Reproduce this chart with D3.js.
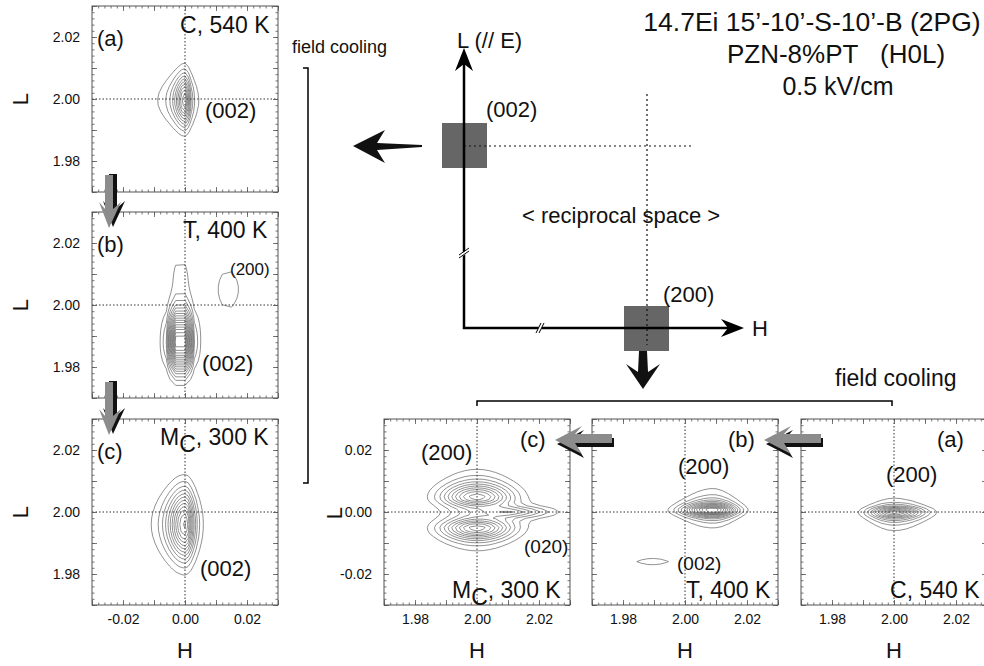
<!DOCTYPE html>
<meta charset="utf-8">
<script src="https://d3js.org/d3.v7.min.js"></script>
<style>
  body { margin: 0; background: #fff; }
  text { font-family: "Liberation Sans", Arial, sans-serif; fill: #111; }
</style>
<div id="my_dataviz"></div>
<script>

// ---------------- data ----------------
var hDomainLeft = [-0.03, 0.03], lDomainLeft = [1.97, 2.03];
var hDomainBottom = [1.97, 2.03], lDomainBottom = [-0.03, 0.03];
var hTicksLeft = [-0.02, 0.00, 0.02];
var lTicksLeft = [1.98, 2.00, 2.02];
var hTicksBottom = [1.98, 2.00, 2.02];
var lTicksBottom = [-0.02, 0.00, 0.02];

var panelTags = ["(a)", "(b)", "(c)"];
var phaseNames = ["C", "T", "MC"];
var temperatures = ["540 K", "400 K", "300 K"];

// contour levels (relative intensity)
var contourLevels = [0.10, 0.18, 0.26, 0.34, 0.42, 0.50, 0.58, 0.66, 0.74, 0.82, 0.90, 0.98, 1.06, 1.14, 1.22, 1.30];

// peaks: [H, L, amplitude, width H-, width H+, width L-, width L+, shape of the narrow profile]
// (002) maps: narrow along H
var peaks002C540 = [[0.000, 1.9995, 0.90, 0.0022, 0.0011, 0.0055, 0.0057, 1]];
var peaks002T400 = [[-0.0015, 1.988, 1.70, 0.0022, 0.0022, 0.0061, 0.0070, 8],
                    [-0.0015, 2.010, 0.13, 0.0025, 0.0025, 0.0060, 0.0060, 8],
                    [0.014, 2.005, 0.13, 0.0047, 0.0047, 0.0083, 0.0083, 8]];
var peaks002M300 = [[0.000, 1.996, 1.00, 0.0037, 0.0020, 0.0076, 0.0075, 2]];
// (200) maps: narrow along L
var peaks200C540 = [[2.000, 0.000, 0.90, 0.0055, 0.0066, 0.0015, 0.0011, 1]];
var peaks200T400 = [[2.009, 0.0005, 1.20, 0.0065, 0.0051, 0.0012, 0.0015, 1],
                    [1.9895, -0.016, 0.13, 0.0070, 0.0070, 0.0013, 0.0013, 1]];
var peaks200M300 = [[2.000, 0.0048, 0.85, 0.0077, 0.0077, 0.0022, 0.0032, 2],
                    [2.000, -0.0052, 0.85, 0.0077, 0.0077, 0.0026, 0.0022, 2],
                    [2.012, 0.000, 0.40, 0.0060, 0.0087, 0.0012, 0.0012, 2]];

// ---------------- layout ----------------
var W = 984, H = 666, S = 186;
var svg = d3.select("#my_dataviz").append("svg")
  .attr("width", W).attr("height", H);

// Pearson-VII profile across the narrow direction, Gaussian along the long one
function intensity(peaks, h, l, narrowIsH) {
  var s = 0;
  peaks.forEach(function(p) {
    var dh = h - p[0], dl = l - p[1];
    var uh = dh / (dh < 0 ? p[3] : p[4]);
    var ul = dl / (dl < 0 ? p[5] : p[6]);
    var un = narrowIsH ? uh : ul, ug = narrowIsH ? ul : uh, nu = p[7];
    s += p[2] * Math.pow(1 + un * un / (2 * nu), -nu) * Math.exp(-0.5 * ug * ug);
  });
  return s;
}

function label(g, x, y, txt, size, anchor) {
  return g.append("text").attr("x", x).attr("y", y)
    .attr("font-size", size).attr("text-anchor", anchor || "start").text(txt);
}

function phaseLabel(g, x, y, i, size) {
  var t = g.append("text").attr("x", x).attr("y", y).attr("font-size", size);
  var name = phaseNames[i];
  t.append("tspan").text(name[0]);
  if (name.length > 1) {
    t.append("tspan").attr("dy", 7).text(name.slice(1));
    t.append("tspan").attr("dy", -7).text(", " + temperatures[i]);
  } else {
    t.append("tspan").text(", " + temperatures[i]);
  }
}

function drawMap(x0, y0, hDomain, lDomain, peaks, narrowIsH, stepH, stepL) {
  var g = svg.append("g").attr("transform", "translate(" + x0 + "," + y0 + ")");
  var x = d3.scaleLinear().domain(hDomain).range([0, S]);
  var y = d3.scaleLinear().domain(lDomain).range([S, 0]);

  // intensity grid + contours
  var nH = Math.round((hDomain[1] - hDomain[0]) / stepH) + 1;
  var nL = Math.round((lDomain[1] - lDomain[0]) / stepL) + 1;
  var values = new Array(nH * nL);
  for (var j = 0; j < nL; j++)
    for (var i = 0; i < nH; i++)
      values[j * nH + i] = intensity(peaks, hDomain[0] + i * stepH, lDomain[0] + j * stepL, narrowIsH);
  var contours = d3.contours().size([nH, nL]).thresholds(contourLevels)(values);
  var proj = d3.geoTransform({
    point: function(px, py) {
      this.stream.point(x(hDomain[0] + (px - 0.5) * stepH), y(lDomain[0] + (py - 0.5) * stepL));
    }
  });
  var path = d3.geoPath(proj);
  g.selectAll("path.ct").data(contours).enter().append("path")
    .attr("class", "ct")
    .attr("d", path)
    .attr("fill", "none")
    .attr("stroke", "#555")
    .attr("stroke-width", 0.65);

  // dotted centre lines
  var hc = d3.mean(hDomain), lc = d3.mean(lDomain);
  g.append("line").attr("x1", x(hc)).attr("x2", x(hc)).attr("y1", 0).attr("y2", S)
    .attr("stroke", "#333").attr("stroke-width", 1).attr("stroke-dasharray", "1.5,2");
  g.append("line").attr("x1", 0).attr("x2", S).attr("y1", y(lc)).attr("y2", y(lc))
    .attr("stroke", "#333").attr("stroke-width", 1).attr("stroke-dasharray", "1.5,2");

  // frame
  g.append("rect").attr("width", S).attr("height", S)
    .attr("fill", "none").attr("stroke", "#555").attr("stroke-width", 1);

  // inward ticks on all sides
  function ticks(axisFn, scale, n, size, tx, ty) {
    var a = g.append("g").attr("transform", "translate(" + tx + "," + ty + ")")
      .call(axisFn(scale).tickValues(scale.ticks(n)).tickSize(-size).tickFormat(""));
    a.select(".domain").remove();
    a.selectAll("line").attr("stroke", "#555").attr("stroke-width", 0.8);
  }
  [[6, 5], [30, 2.5]].forEach(function(t) {
    ticks(d3.axisLeft, y, t[0], t[1], 0, 0);
    ticks(d3.axisRight, y, t[0], t[1], S, 0);
    ticks(d3.axisTop, x, t[0], t[1], 0, 0);
    ticks(d3.axisBottom, x, t[0], t[1], 0, S);
  });
  return { g: g, x: x, y: y };
}

function tickLabels(p, hTicks, lTicks, showH, showL) {
  var fmt = function(v) { return v.toFixed(2); };
  if (showL) {
    var ya = p.g.append("g")
      .call(d3.axisLeft(p.y).tickValues(lTicks).tickSize(0).tickPadding(12).tickFormat(fmt));
    ya.select(".domain").remove();
    ya.selectAll("text").attr("font-size", 14).attr("font-family", "Liberation Sans, Arial, sans-serif").attr("fill", "#222");
  }
  if (showH) {
    var xa = p.g.append("g").attr("transform", "translate(0," + S + ")")
      .call(d3.axisBottom(p.x).tickValues(hTicks).tickSize(0).tickPadding(9).tickFormat(fmt));
    xa.select(".domain").remove();
    xa.selectAll("text").attr("font-size", 14).attr("font-family", "Liberation Sans, Arial, sans-serif").attr("fill", "#222");
  }
}

// ---------------- left column: (002) maps ----------------
var leftY = [6, 212, 419];
var leftPeaks = [peaks002C540, peaks002T400, peaks002M300];
var leftGrid = [[0.001, 0.002], [0.003, 0.002], [0.001, 0.002]];   // sampling step in H, L
var leftPanels = leftPeaks.map(function(pk, i) {
  var p = drawMap(92, leftY[i], hDomainLeft, lDomainLeft, pk, true, leftGrid[i][0], leftGrid[i][1]);
  tickLabels(p, hTicksLeft, lTicksLeft, i === 2, true);
  label(p.g, 5, 40, panelTags[i], 22);
  label(svg, 0, 0, "L", 22, "middle")
    .attr("transform", "translate(28," + (leftY[i] + S / 2) + ") rotate(-90)");
  return p;
});
phaseLabel(leftPanels[0].g, 88, 27, 0, 23);
label(leftPanels[0].g, 113, 112, "(002)", 22);
phaseLabel(leftPanels[1].g, 91, 26, 1, 23);
label(leftPanels[1].g, 138, 63, "(200)", 17);
label(leftPanels[1].g, 110, 159, "(002)", 22);
phaseLabel(leftPanels[2].g, 68, 26, 2, 23);
label(leftPanels[2].g, 108, 157, "(002)", 22);
label(svg, 92 + S / 2, 658, "H", 22, "middle");

// ---------------- bottom row: (200) maps ----------------
var bottomX = [801, 592, 384];
var bottomPeaks = [peaks200C540, peaks200T400, peaks200M300];
var bottomPanels = bottomPeaks.map(function(pk, i) {
  var p = drawMap(bottomX[i], 419, hDomainBottom, lDomainBottom, pk, false, 0.002, 0.001);
  tickLabels(p, hTicksBottom, lTicksBottom, true, i === 2);
  label(p.g, 136, 28, panelTags[i], 22);
  label(svg, bottomX[i] + S / 2, 658, "H", 22, "middle");
  return p;
});
label(svg, 0, 0, "L", 22, "middle").attr("transform", "translate(342,513) rotate(-90)");
label(bottomPanels[0].g, 85, 63, "(200)", 22);
phaseLabel(bottomPanels[0].g, 89, 179, 0, 23);
label(bottomPanels[1].g, 86, 55, "(200)", 22);
label(bottomPanels[1].g, 85, 151, "(002)", 19);
phaseLabel(bottomPanels[1].g, 94, 179, 1, 23);
label(bottomPanels[2].g, 37, 41, "(200)", 22);
label(bottomPanels[2].g, 140, 134, "(020)", 19);
phaseLabel(bottomPanels[2].g, 68, 179, 2, 23);

// ---------------- gray block arrows ----------------
function blockArrow(pts, dx, dy) {
  svg.append("polygon").attr("points", pts.map(function(p) { return (p[0] + dx) + "," + (p[1] + dy); }).join(" "))
    .attr("fill", "#111");
  svg.append("polygon").attr("points", pts.map(function(p) { return p.join(","); }).join(" "))
    .attr("fill", "#8c8c8c");
}
[0, 207].forEach(function(o) {
  blockArrow([[105, 175 + o], [105, 209 + o], [99, 202 + o], [109, 228 + o], [121, 202 + o],
              [113, 209 + o], [113, 175 + o]], 4, -1);
});
[0, 209].forEach(function(o) {
  blockArrow([[555 + o, 440], [582 + o, 426], [575 + o, 434], [612 + o, 434], [612 + o, 443],
              [575 + o, 443], [582 + o, 454]], 2, 4);
});

// ---------------- reciprocal space sketch ----------------
svg.append("rect").attr("x", 442).attr("y", 123).attr("width", 45).attr("height", 45).attr("fill", "#666");
svg.append("rect").attr("x", 624).attr("y", 306).attr("width", 45).attr("height", 45).attr("fill", "#666");
svg.append("line").attr("x1", 464).attr("x2", 692).attr("y1", 146).attr("y2", 146)
  .attr("stroke", "#111").attr("stroke-width", 1.2).attr("stroke-dasharray", "2,3");
svg.append("line").attr("x1", 647).attr("x2", 647).attr("y1", 94).attr("y2", 345)
  .attr("stroke", "#111").attr("stroke-width", 1.2).attr("stroke-dasharray", "2,3");
svg.append("path").attr("d", "M464,62 V328 H730").attr("fill", "none")
  .attr("stroke", "#000").attr("stroke-width", 2.5);
svg.append("polygon").attr("points", "464,48 473,71 464,64 455,71").attr("fill", "#000");
svg.append("polygon").attr("points", "744,328 721,319 728,328 721,337").attr("fill", "#000");
// axis breaks
svg.append("line").attr("x1", 458).attr("x2", 470).attr("y1", 257).attr("y2", 250).attr("stroke", "#fff").attr("stroke-width", 3);
svg.append("path").attr("d", "M459,258 L469,251 M459,255 L469,248").attr("stroke", "#000").attr("stroke-width", 1);
svg.append("line").attr("x1", 537).attr("x2", 543).attr("y1", 334).attr("y2", 322).attr("stroke", "#fff").attr("stroke-width", 3);
svg.append("path").attr("d", "M536,333 L541,323 M539,333 L544,323").attr("stroke", "#000").attr("stroke-width", 1);

label(svg, 457, 48, "L (// E)", 22);
label(svg, 486, 117, "(002)", 22);
label(svg, 663, 302, "(200)", 22);
label(svg, 752, 336, "H", 22);
label(svg, 522, 223, "< reciprocal space >", 22);

// black arrows
svg.append("polygon").attr("points", "353,146 385,130 377,143 422,145 422,147 377,150 385,163").attr("fill", "#111");
svg.append("polygon").attr("points", "639,351 647,351 648,372 660,364 643,389 626,364 638,372").attr("fill", "#111");

// field cooling brackets
label(svg, 292, 53, "field cooling", 18);
svg.append("path").attr("d", "M303,68 H308 V483 H303").attr("fill", "none").attr("stroke", "#000").attr("stroke-width", 1.5);
label(svg, 835, 386, "field cooling", 23);
svg.append("path").attr("d", "M477,406 V401 H892 V406").attr("fill", "none").attr("stroke", "#000").attr("stroke-width", 1.5);

// title
label(svg, 812, 31, "14.7Ei 15\u2019-10\u2019-S-10\u2019-B (2PG)", 26.5, "middle");
label(svg, 836, 63, "PZN-8%PT\u00a0\u00a0\u00a0(H0L)", 26, "middle");
label(svg, 838, 95, "0.5 kV/cm", 25, "middle");

</script>
